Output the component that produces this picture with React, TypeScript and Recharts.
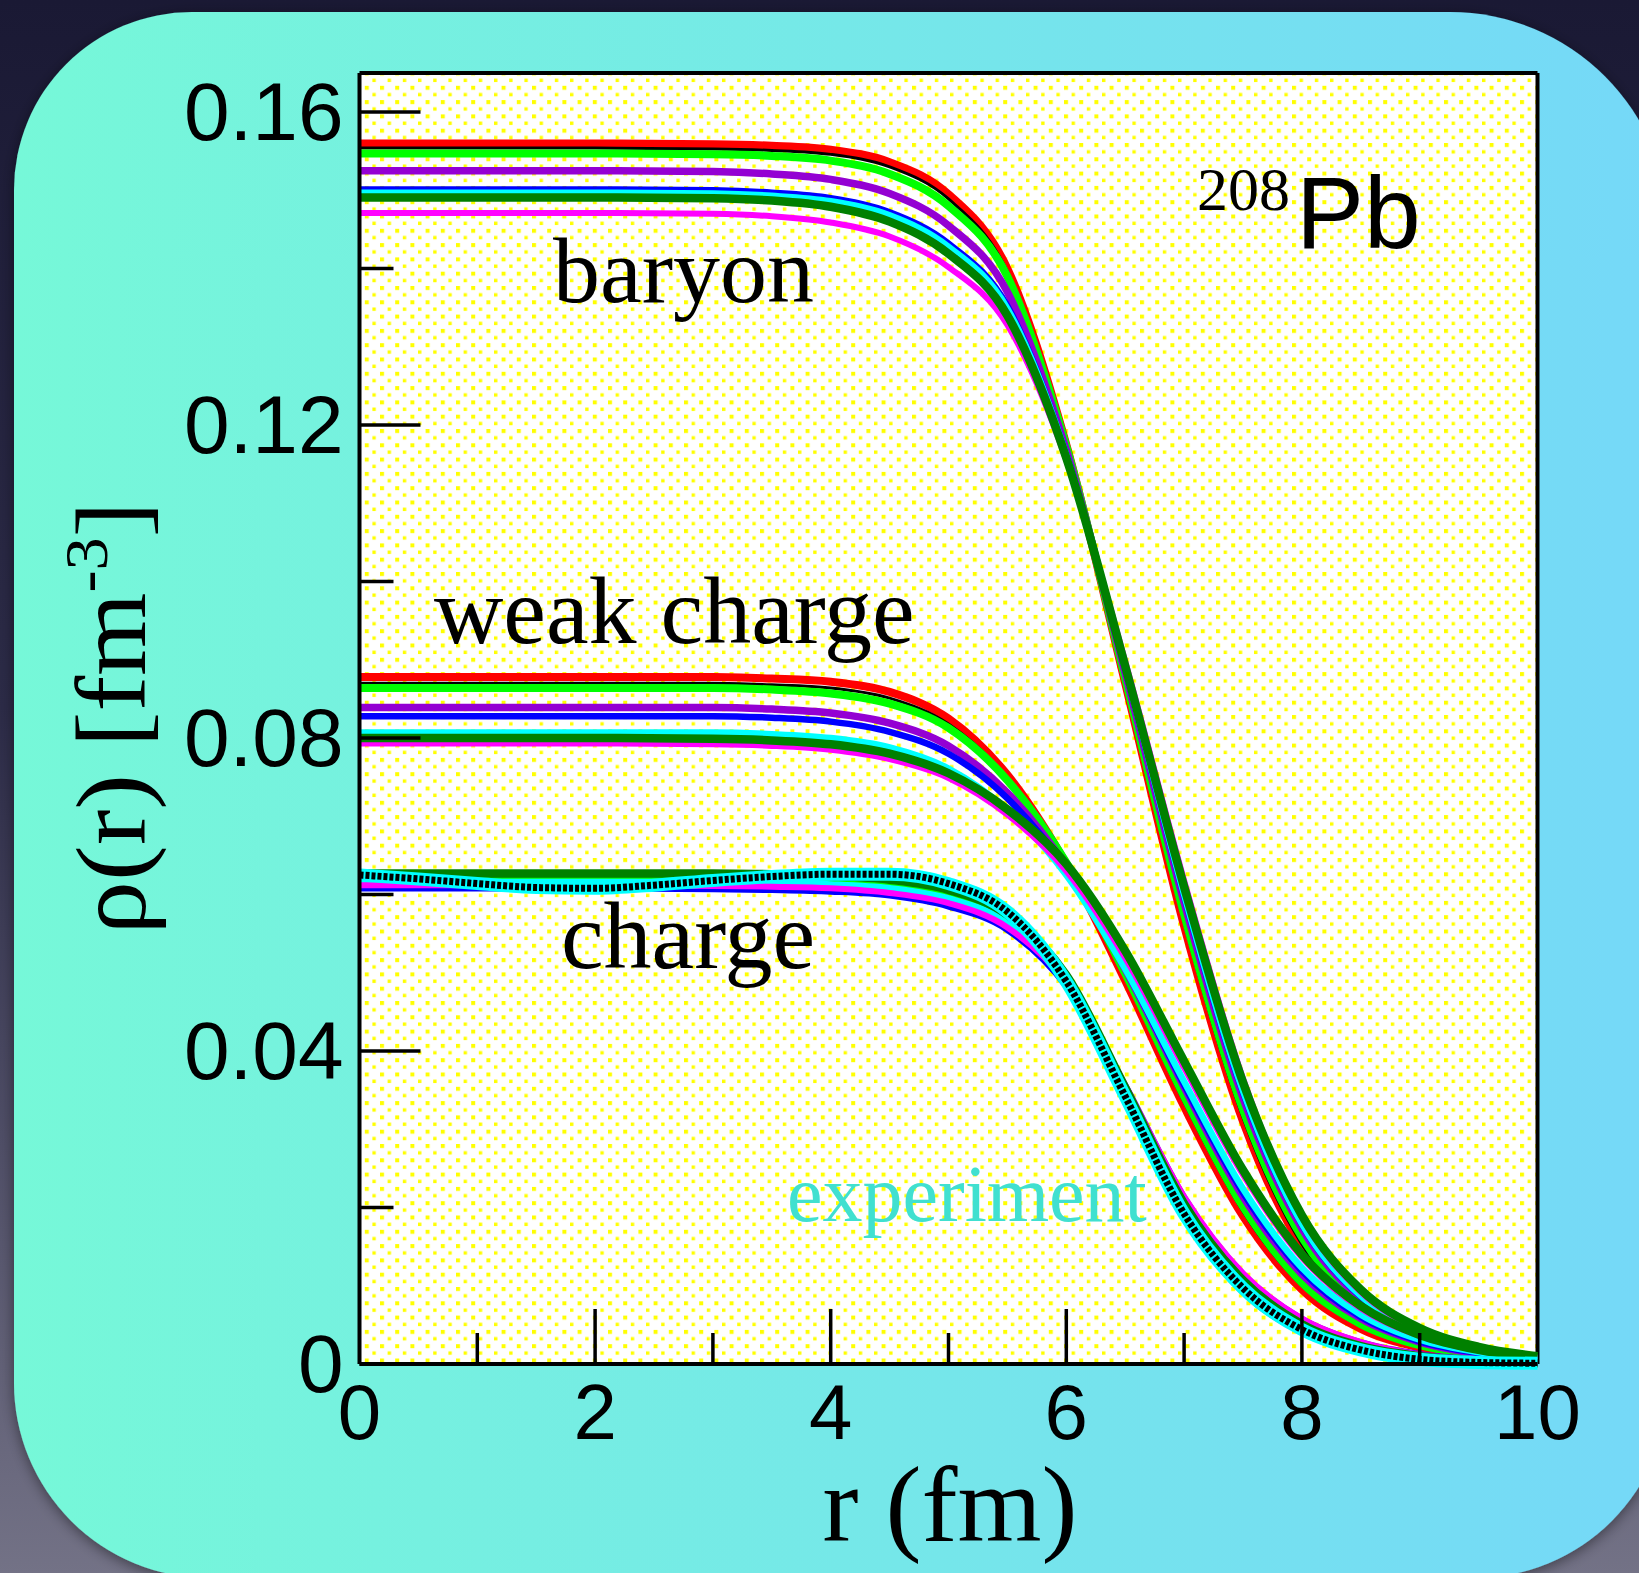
import React from 'react';
import { LineChart, Line, XAxis, YAxis, CartesianGrid, ReferenceLine } from 'recharts';

const W = 1639;
const H = 1573;
const SANS = '"Liberation Sans", Arial, Helvetica, sans-serif';
const SERIF = '"Liberation Serif", "Times New Roman", Times, serif';

// radial grid (fm) for the model curves and for the measured charge density
const radius = [0, 1, 2, 3, 3.5, 4, 4.5, 5, 5.5, 6, 6.5, 7, 7.5, 8, 8.5, 9, 9.5, 10];
const expRadius = [0, 0.5, 1, 1.5, 2, 2.5, 3, 3.5, 4, 4.5, 5, 5.5, 6, 6.5, 7, 7.5, 8, 8.5, 9, 9.5, 10];

// baryon densities (fm^-3)
const baryonRed = [0.1560, 0.1560, 0.1560, 0.1559, 0.1557, 0.1552, 0.1536, 0.1495, 0.1400, 0.1175, 0.0870, 0.0560, 0.0310, 0.0150, 0.0068, 0.0030, 0.0013, 0.0005];
const baryonBlack = [0.1554, 0.1554, 0.1554, 0.1553, 0.1551, 0.1546, 0.1530, 0.1489, 0.1396, 0.1174, 0.0872, 0.0565, 0.0315, 0.0153, 0.0070, 0.0031, 0.0013, 0.0005];
const baryonLime = [0.1547, 0.1547, 0.1547, 0.1546, 0.1544, 0.1538, 0.1521, 0.1480, 0.1390, 0.1173, 0.0876, 0.0575, 0.0325, 0.0162, 0.0076, 0.0034, 0.0015, 0.0006];
const baryonPurple = [0.1525, 0.1525, 0.1525, 0.1524, 0.1521, 0.1514, 0.1496, 0.1455, 0.1370, 0.1168, 0.0883, 0.0590, 0.0340, 0.0173, 0.0083, 0.0038, 0.0017, 0.0007];
const baryonBlue = [0.1501, 0.1501, 0.1501, 0.1500, 0.1497, 0.1490, 0.1472, 0.1432, 0.1352, 0.1163, 0.0888, 0.0598, 0.0347, 0.0178, 0.0086, 0.0040, 0.0018, 0.0008];
const baryonCyan = [0.1497, 0.1497, 0.1497, 0.1496, 0.1493, 0.1486, 0.1468, 0.1428, 0.1349, 0.1162, 0.0889, 0.0600, 0.0349, 0.0179, 0.0087, 0.0041, 0.0018, 0.0008];
const baryonMagenta = [0.1471, 0.1471, 0.1471, 0.1470, 0.1467, 0.1459, 0.1441, 0.1402, 0.1328, 0.1155, 0.0898, 0.0618, 0.0365, 0.0188, 0.0092, 0.0044, 0.0020, 0.0009];
const baryonGreen = [0.1491, 0.1491, 0.1491, 0.1490, 0.1487, 0.1479, 0.1460, 0.1419, 0.1340, 0.1158, 0.0892, 0.0610, 0.0360, 0.0190, 0.0095, 0.0046, 0.0022, 0.0010];

// weak charge densities
const weakRed = [0.0878, 0.0878, 0.0878, 0.0878, 0.0876, 0.0872, 0.0859, 0.0825, 0.0753, 0.0639, 0.0490, 0.0329, 0.0189, 0.0095, 0.0045, 0.0021, 0.0010, 0.0004];
const weakBlack = [0.0870, 0.0870, 0.0870, 0.0870, 0.0868, 0.0864, 0.0851, 0.0818, 0.0749, 0.0639, 0.0494, 0.0335, 0.0195, 0.0100, 0.0048, 0.0023, 0.0011, 0.0005];
const weakLime = [0.0864, 0.0864, 0.0864, 0.0864, 0.0862, 0.0857, 0.0844, 0.0813, 0.0746, 0.0641, 0.0499, 0.0342, 0.0201, 0.0104, 0.0051, 0.0024, 0.0011, 0.0005];
const weakPurple = [0.0839, 0.0839, 0.0839, 0.0839, 0.0837, 0.0832, 0.0819, 0.0790, 0.0730, 0.0636, 0.0505, 0.0354, 0.0214, 0.0115, 0.0058, 0.0028, 0.0013, 0.0006];
const weakBlue = [0.0828, 0.0828, 0.0828, 0.0828, 0.0826, 0.0821, 0.0808, 0.0780, 0.0723, 0.0633, 0.0506, 0.0357, 0.0219, 0.0119, 0.0060, 0.0029, 0.0014, 0.0006];
const weakCyan = [0.0807, 0.0807, 0.0807, 0.0807, 0.0805, 0.0800, 0.0788, 0.0761, 0.0708, 0.0625, 0.0505, 0.0361, 0.0224, 0.0123, 0.0063, 0.0031, 0.0015, 0.0007];
const weakMagenta = [0.0793, 0.0793, 0.0793, 0.0792, 0.0790, 0.0785, 0.0773, 0.0749, 0.0702, 0.0630, 0.0519, 0.0379, 0.0242, 0.0136, 0.0071, 0.0036, 0.0017, 0.0008];
const weakGreen = [0.0800, 0.0800, 0.0800, 0.0799, 0.0797, 0.0792, 0.0780, 0.0755, 0.0709, 0.0639, 0.0528, 0.0387, 0.0248, 0.0140, 0.0074, 0.0037, 0.0018, 0.0008];

// charge densities
const chargeRed = [0.0621, 0.0621, 0.0621, 0.0621, 0.0620, 0.0619, 0.0615, 0.0602, 0.0571, 0.0491, 0.0338, 0.0189, 0.0093, 0.0042, 0.0017, 0.0007, 0.0002, 0.0001];
const chargeBlack = [0.0620, 0.0620, 0.0620, 0.0620, 0.0619, 0.0618, 0.0614, 0.0601, 0.0570, 0.0490, 0.0338, 0.0189, 0.0093, 0.0042, 0.0017, 0.0007, 0.0002, 0.0001];
const chargeLime = [0.0619, 0.0619, 0.0619, 0.0619, 0.0618, 0.0617, 0.0612, 0.0599, 0.0568, 0.0490, 0.0342, 0.0194, 0.0098, 0.0045, 0.0019, 0.0008, 0.0003, 0.0001];
const chargePurple = [0.0615, 0.0615, 0.0615, 0.0614, 0.0613, 0.0611, 0.0606, 0.0592, 0.0561, 0.0489, 0.0355, 0.0212, 0.0114, 0.0057, 0.0027, 0.0012, 0.0005, 0.0002];
const chargeBlue = [0.0608, 0.0608, 0.0608, 0.0607, 0.0606, 0.0604, 0.0599, 0.0585, 0.0555, 0.0483, 0.0351, 0.0210, 0.0113, 0.0056, 0.0026, 0.0012, 0.0005, 0.0002];
const chargeCyan = [0.0616, 0.0616, 0.0616, 0.0616, 0.0615, 0.0613, 0.0608, 0.0595, 0.0564, 0.0488, 0.0349, 0.0205, 0.0107, 0.0052, 0.0024, 0.0010, 0.0004, 0.0001];
const chargeMagenta = [0.0612, 0.0612, 0.0612, 0.0611, 0.0610, 0.0608, 0.0602, 0.0589, 0.0558, 0.0487, 0.0355, 0.0214, 0.0116, 0.0058, 0.0028, 0.0012, 0.0005, 0.0002];
const chargeGreen = [0.0627, 0.0627, 0.0627, 0.0627, 0.0626, 0.0624, 0.0619, 0.0606, 0.0574, 0.0497, 0.0353, 0.0205, 0.0107, 0.0051, 0.0023, 0.0010, 0.0004, 0.0001];

// measured charge density
const chargeExperiment = [0.0625, 0.0620, 0.0614, 0.0609, 0.0608, 0.0612, 0.0618, 0.0623, 0.0626, 0.0626, 0.0614, 0.0578, 0.0489, 0.0342, 0.0192, 0.0097, 0.0044, 0.0018, 0.0006, 0.0002, 0.0001];

const xTicks = [0, 1, 2, 3, 4, 5, 6, 7, 8, 9, 10];
const xTickLabels = ['0', '', '2', '', '4', '', '6', '', '8', '', '10'];
const yTicks = [0, 0.02, 0.04, 0.06, 0.08, 0.1, 0.12, 0.14, 0.16];
const yTickLabels = ['0', '', '0.04', '', '0.08', '', '0.12', '', '0.16'];

// one entry per parameter set, in drawing order
const models = [
  { id: 'red', color: '#ff0000', width: 8 },
  { id: 'black', color: '#000000', width: 3 },
  { id: 'lime', color: '#00ff00', width: 8 },
  { id: 'purple', color: '#9400d3', width: 7.5 },
  { id: 'blue', color: '#0000ff', width: 6.5 },
  { id: 'cyan', color: '#00ffff', width: 6.5 },
  { id: 'magenta', color: '#ff00ff', width: 6 },
  { id: 'green', color: '#008000', width: 8.5 },
];

const baryon = [baryonRed, baryonBlack, baryonLime, baryonPurple, baryonBlue, baryonCyan, baryonMagenta, baryonGreen];
const weak = [weakRed, weakBlack, weakLime, weakPurple, weakBlue, weakCyan, weakMagenta, weakGreen];
const charge = [chargeRed, chargeBlack, chargeLime, chargePurple, chargeBlue, chargeCyan, chargeMagenta, chargeGreen];

const toRows = (xs: number[], ys: number[]) => xs.map((r, i) => ({ r, rho: ys[i] }));

function XTick(props: any) {
  const { x, y, index } = props;
  const label = xTickLabels[index];
  const len = index === 0 || index === xTicks.length - 1 ? 0 : index % 2 === 0 ? 55 : 31;
  return (
    <g>
      {len > 0 && <line x1={x} x2={x} y1={y} y2={y - len} stroke="#000" strokeWidth={3.5} />}
      {label && (
        <text x={x} y={y + 75} textAnchor="middle" fontFamily={SANS} fontSize={78} fill="#000">
          {label}
        </text>
      )}
    </g>
  );
}

function YTick(props: any) {
  const { x, y, index } = props;
  const label = yTickLabels[index];
  const len = index % 2 === 0 ? 61 : 34;
  return (
    <g>
      <line x1={x} x2={x + len} y1={y} y2={y} stroke="#000" strokeWidth={3.5} />
      {label && (
        <text x={x - 16} y={y + 28} textAnchor="end" fontFamily={SANS} fontSize={82} fill="#000">
          {label}
        </text>
      )}
    </g>
  );
}

function Backdrop() {
  const panel =
    'M192,12 L1450,12 A219,219 0 0 1 1669,231 L1669,1383 A195,195 0 0 1 1474,1578 ' +
    'L209,1578 A195,195 0 0 1 14,1383 L14,190 A178,178 0 0 1 192,12 Z';
  return (
    <svg width={W} height={H} style={{ position: 'absolute', left: 0, top: 0 }}>
      <defs>
        <linearGradient id="backdropFill" x1="0" y1="0" x2="0" y2="1">
          <stop offset="0" stopColor="#1a1934" />
          <stop offset="0.45" stopColor="#2c2b47" />
          <stop offset="1" stopColor="#737286" />
        </linearGradient>
        <linearGradient id="panelFill" x1="0" y1="0" x2="1" y2="0">
          <stop offset="0" stopColor="#76f8d8" />
          <stop offset="1" stopColor="#74d8f8" />
        </linearGradient>
        <pattern id="dotFill" width={15.2} height={14.3} patternUnits="userSpaceOnUse">
          <rect width={15.2} height={14.3} fill="#ffffff" />
          <rect x={0} y={0} width={4} height={4} fill="#ffff00" />
          <rect x={7.6} y={7.15} width={3.4} height={3.4} fill="#ffff00" />
        </pattern>
        <filter id="panelShadow" x="-10%" y="-10%" width="120%" height="120%">
          <feDropShadow dx="0" dy="3" stdDeviation="7" floodColor="#000" floodOpacity="0.45" />
        </filter>
      </defs>
      <rect width={W} height={H} fill="url(#backdropFill)" />
      <path d={panel} fill="url(#panelFill)" filter="url(#panelShadow)" />
    </svg>
  );
}

function Labels() {
  return (
    <svg width={W} height={H} style={{ position: 'absolute', left: 0, top: 0, pointerEvents: 'none' }}>
      <text x={553} y={302} fontFamily={SERIF} fontSize={94} fill="#000">baryon</text>
      <text x={434} y={643} fontFamily={SERIF} fontSize={96} fill="#000">weak charge</text>
      <text x={561} y={968} fontFamily={SERIF} fontSize={96} fill="#000">charge</text>
      <text x={787} y={1221} fontFamily={SERIF} fontSize={80} fill="#40e0d0">experiment</text>
      <text x={1197} y={210} fontFamily={SERIF} fontSize={62} fill="#000">208</text>
      <text x={1296} y={248} fontFamily={SANS} fontSize={102} fill="#000">Pb</text>
      <text x={950} y={1541} textAnchor="middle" fontFamily={SERIF} fontSize={108} fill="#000">
        r (fm)
      </text>
      <text
        transform="translate(145,718) rotate(-90)"
        textAnchor="middle"
        fontFamily={SERIF}
        fontSize={100}
        fill="#000"
        textLength={433}
        lengthAdjust="spacingAndGlyphs"
      >
        ρ(r) [fm<tspan dy={-38} fontSize={62}>-3</tspan>
        <tspan dy={38}>]</tspan>
      </text>
    </svg>
  );
}

export default function App() {
  return (
    <div style={{ position: 'absolute', left: 0, top: 0, width: W, height: H, overflow: 'hidden' }}>
      <Backdrop />
      <div style={{ position: 'absolute', left: 0, top: 0 }}>
        <LineChart width={W} height={H} margin={{ top: 73, right: 101.5, bottom: 59, left: 59.5 }}>
          <CartesianGrid fill="url(#dotFill)" horizontal={false} vertical={false} />
          <XAxis
            type="number"
            dataKey="r"
            domain={[0, 10]}
            ticks={xTicks}
            interval={0}
            height={150}
            tickSize={0}
            tickMargin={0}
            tickLine={false}
            tick={<XTick />}
            axisLine={{ stroke: '#000', strokeWidth: 4 }}
          />
          <YAxis
            type="number"
            domain={[0, 0.165]}
            ticks={yTicks}
            interval={0}
            width={300}
            tickSize={0}
            tickMargin={0}
            tickLine={false}
            tick={<YTick />}
            axisLine={{ stroke: '#000', strokeWidth: 4 }}
          />
          <ReferenceLine y={0.165} stroke="#000" strokeWidth={4} />
          <ReferenceLine x={10} stroke="#000" strokeWidth={4} />
          {models.map((m, i) => (
            <Line
              key={`baryon-${m.id}`}
              data={toRows(radius, baryon[i])}
              dataKey="rho"
              type="monotone"
              stroke={m.color}
              strokeWidth={m.width}
              dot={false}
              isAnimationActive={false}
            />
          ))}
          {models.map((m, i) => (
            <Line
              key={`weak-${m.id}`}
              data={toRows(radius, weak[i])}
              dataKey="rho"
              type="monotone"
              stroke={m.color}
              strokeWidth={m.width}
              dot={false}
              isAnimationActive={false}
            />
          ))}
          {models.map((m, i) => (
            <Line
              key={`charge-${m.id}`}
              data={toRows(radius, charge[i])}
              dataKey="rho"
              type="monotone"
              stroke={m.color}
              strokeWidth={m.width}
              dot={false}
              isAnimationActive={false}
            />
          ))}
          {/* experiment: cyan band with a dense row of black markers along it */}
          <Line
            data={toRows(expRadius, chargeExperiment)}
            dataKey="rho"
            type="monotone"
            stroke="#00ffff"
            strokeWidth={13}
            dot={false}
            isAnimationActive={false}
          />
          <Line
            data={toRows(expRadius, chargeExperiment)}
            dataKey="rho"
            type="monotone"
            stroke="#000"
            strokeWidth={7}
            strokeDasharray="4 2"
            dot={false}
            isAnimationActive={false}
          />
        </LineChart>
      </div>
      <Labels />
    </div>
  );
}
